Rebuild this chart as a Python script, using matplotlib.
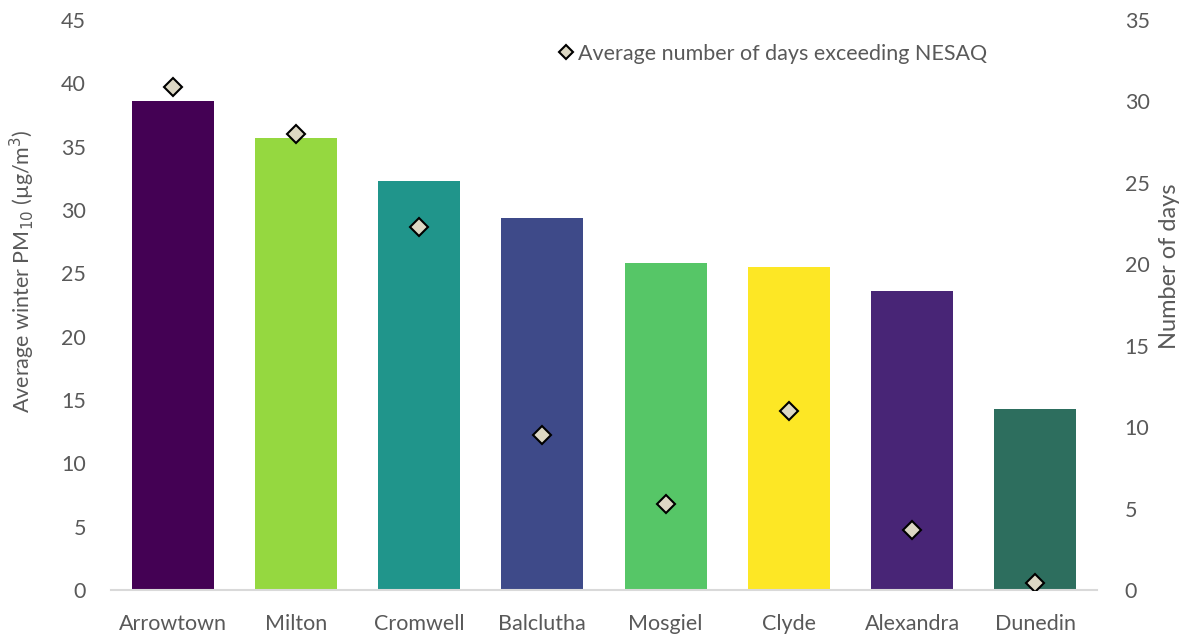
import matplotlib
matplotlib.use("Agg")
import matplotlib.pyplot as plt
from matplotlib.lines import Line2D

towns = ["Arrowtown", "Milton", "Cromwell", "Balclutha", "Mosgiel", "Clyde", "Alexandra", "Dunedin"]
pm10 = [38.6, 35.7, 32.3, 29.4, 25.8, 25.5, 23.6, 14.3]
days = [30.9, 28.0, 22.3, 9.5, 5.3, 11.0, 3.7, 0.4]
colors = ["#440154", "#95d840", "#20958b", "#3e4a89", "#56c667", "#fde725", "#482576", "#2d6e5e"]

plt.rcParams['font.family'] = ['Lato', 'DejaVu Sans']
gray = "#595959"

fig = plt.figure(figsize=(11.88, 6.34), dpi=100)
ax = fig.add_axes([111/1188, 1 - 590/634, 986/1188, 570/634])
x = list(range(len(towns)))
ax.bar(x, pm10, width=0.665, color=colors, zorder=2)
ax.set_xlim(-0.5, len(towns) - 0.5)
ax.set_ylim(0, 45)
ax.set_yticks(range(0, 46, 5))
ax.set_xticks(x)
ax.set_xticklabels(towns)
for s in ["top", "right", "left"]:
    ax.spines[s].set_visible(False)
ax.spines["bottom"].set_color("#d9d9d9")
ax.spines["bottom"].set_linewidth(1.5)
ax.tick_params(axis="x", length=0, labelsize=15.5, colors=gray, pad=17)
ax.tick_params(axis="y", length=0, labelsize=15.5, colors=gray, pad=18)
ax.set_ylabel("Average winter PM$_{10}$ (µg/m$^3$)", fontsize=15.5, color=gray)
ax.yaxis.set_label_coords(-0.075, 0.56)

ax2 = ax.twinx()
ax2.set_ylim(0, 35)
ax2.set_yticks(range(0, 36, 5))
for s in ["top", "right", "left", "bottom"]:
    ax2.spines[s].set_visible(False)
ax2.tick_params(axis="y", length=0, labelsize=15.5, colors=gray, pad=20)
ax2.plot(x, days, linestyle="none", marker="D", markersize=9, markerfacecolor="#ddd8c4",
         markeredgecolor="black", markeredgewidth=1.5, zorder=3)
ax2.set_ylabel("Number of days", fontsize=17, color=gray)
ax2.yaxis.set_label_coords(1.063, 0.568)

handle = Line2D([], [], linestyle="none", marker="D", markersize=7, markerfacecolor="#ddd8c4",
                markeredgecolor="black", markeredgewidth=1.5)
leg = ax2.legend([handle], ["Average number of days exceeding NESAQ"], loc="upper left",
                 bbox_to_anchor=(0.432, 0.992), frameon=False, fontsize=15.5, handletextpad=0.1,
                 handlelength=0.9, labelcolor=gray)

fig.savefig("out.png", dpi=100)
